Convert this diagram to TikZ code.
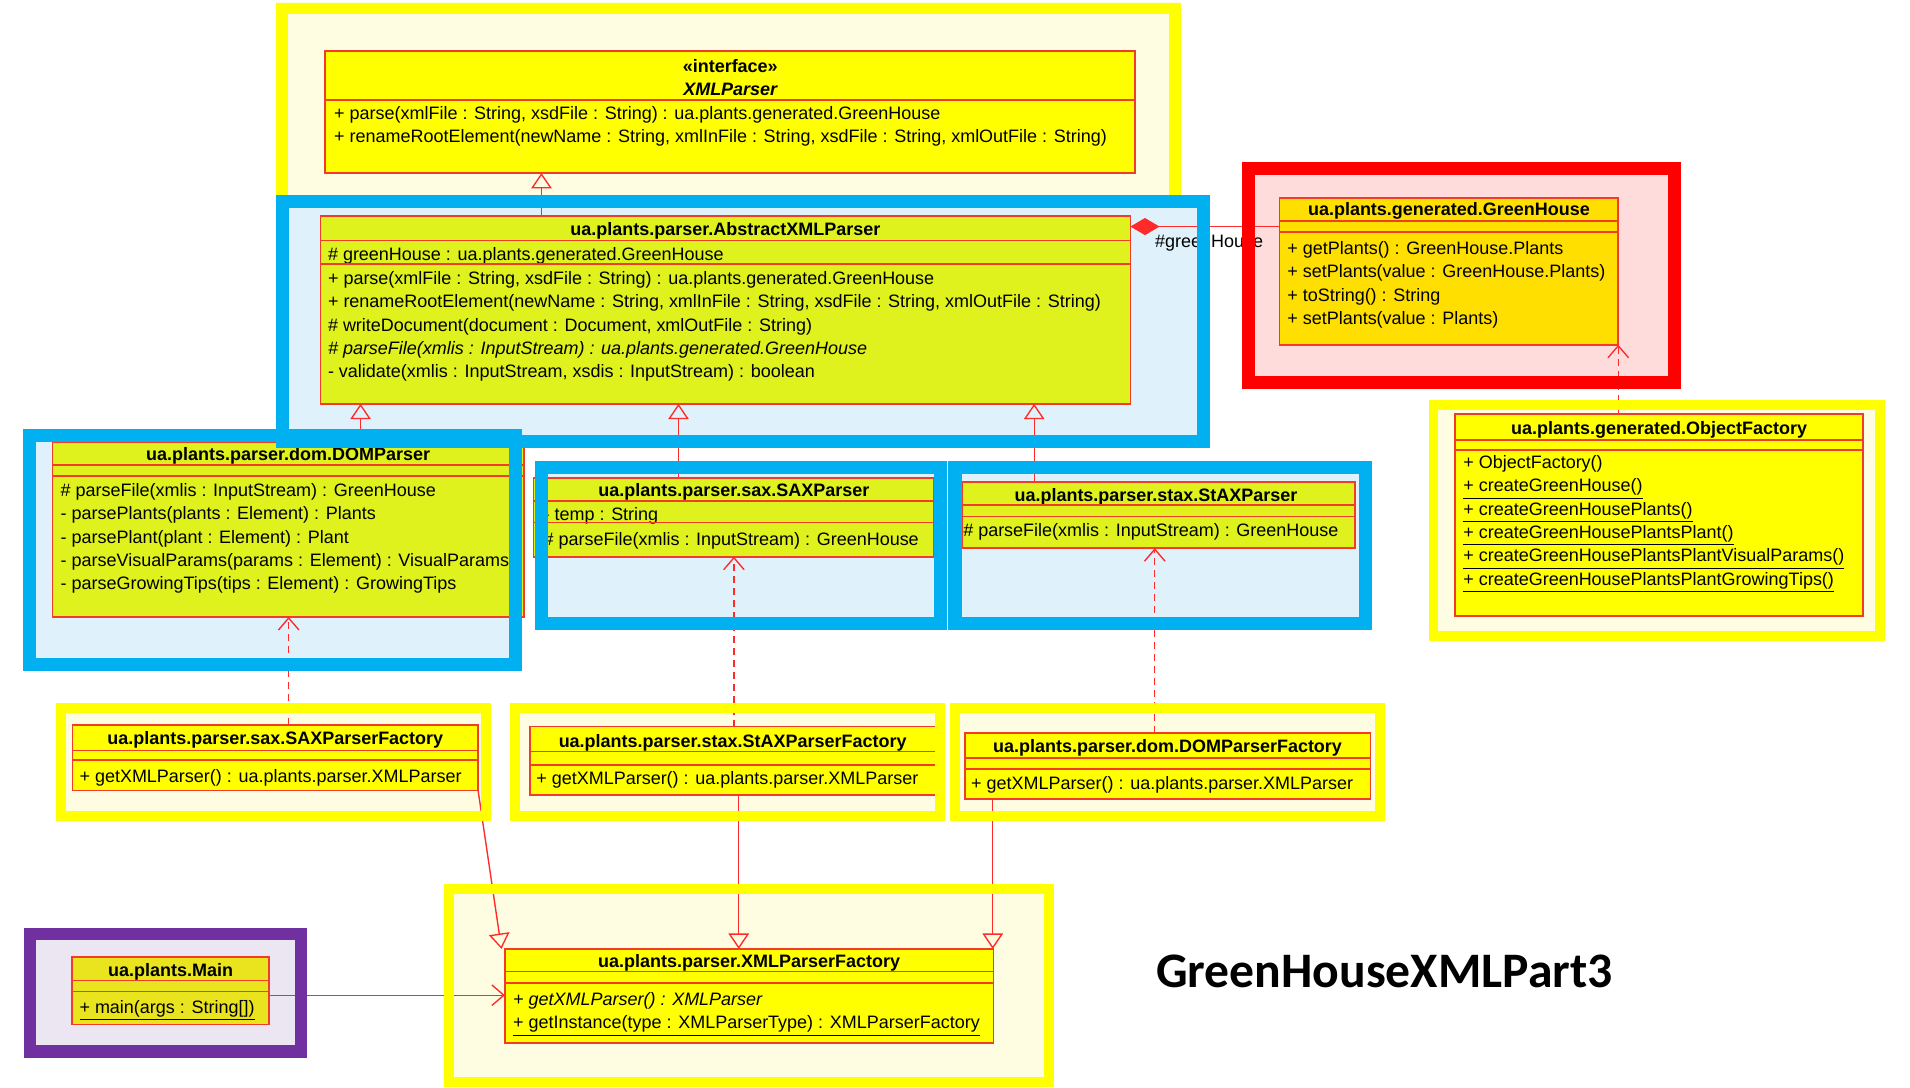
\documentclass[tikz,border=0pt]{standalone}
\usepackage{fontspec}
\setmainfont{Liberation Sans}
\newfontfamily\titlefont{Carlito}
\usetikzlibrary{arrows.meta,fit}

\definecolor{frameyellow}{HTML}{FFFF00}
\definecolor{paleyellow}{HTML}{FFFDE1}
\definecolor{frameblue}{HTML}{00B0F0}
\definecolor{paleblue}{HTML}{DFF2FB}
\definecolor{framered}{HTML}{FF0000}
\definecolor{palered}{HTML}{FFDCDC}
\definecolor{framepurple}{HTML}{7030A0}
\definecolor{palepurple}{HTML}{ECE6F3}
\definecolor{classyellow}{HTML}{FFFF00}
\definecolor{classlime}{HTML}{DFF21E}
\definecolor{classgold}{HTML}{FFDF00}
\definecolor{classmain}{HTML}{EAE41E}
\definecolor{umlred}{HTML}{F03C28}
\definecolor{linkred}{HTML}{FF2A2A}

\newcommand{\umlsize}{\fontsize{10.5}{13.65}\selectfont}

\tikzset{
  umlclass/.style={draw=umlred, line width=1pt, inner sep=0pt, outer sep=0pt},
  classname/.style={font=\umlsize\bfseries, inner sep=0pt},
  members/.style={font=\umlsize, align=left, anchor=north west, inner sep=0pt},
  compartment/.style={draw=umlred, line width=1pt},
  yframe/.style={draw=frameyellow, line width=5.8pt},
  bframe/.style={draw=frameblue, line width=7.6pt},
  rframe/.style={draw=framered, line width=7.5pt},
  pframe/.style={draw=framepurple, line width=7.3pt},
  inherit/.style={draw=linkred, line width=0.8pt, -{Triangle[open, length=9pt, width=12pt]}},
  depends/.style={draw=linkred, line width=0.8pt, dash pattern=on 4pt off 3pt, -{Straight Barb[length=7pt, width=12pt]}},
  assoc/.style={draw=linkred, line width=0.8pt, -{Straight Barb[length=7pt, width=12pt]}},
  composite/.style={draw=linkred, line width=0.8pt, {Diamond[length=17pt, width=10pt, fill=linkred]}-}
}

\begin{document}
\begin{tikzpicture}[x=0.025cm, y=-0.025cm]
    \useasboundingbox (0,0) rectangle (1568,893);

    % group backgrounds
    \fill[paleyellow] (226.5,2) rectangle (969,170);
    \fill[paleblue] (226.5,160) rectangle (993.5,368);
    \fill[paleblue] (19,352) rectangle (428,551);
    \fill[paleblue] (439,378.5) rectangle (777,517);
    \fill[paleblue] (779,378.5) rectangle (1126.5,517);
    \fill[palered] (1020,133) rectangle (1380,319.5);
    \fill[paleyellow] (1173,328.5) rectangle (1547.5,526);
    \fill[paleyellow] (46,577.5) rectangle (403,674);
    \fill[paleyellow] (419,577.5) rectangle (776,674);
    \fill[paleyellow] (780,577.5) rectangle (1137,674);
    \fill[paleyellow] (364,726) rectangle (865.5,893);
    \fill[palepurple] (19.5,761.5) rectangle (252,868.5);

    % interface XMLParser
    \node[umlclass, fill=classyellow, fit={(267,42) (932,142)}] (xmlparser) {};
    \node[classname] (xmlparser-st) at (599.5,54) {«interface»};
    \node[classname, font=\umlsize\bfseries\itshape] (xmlparser-name) at (599.5,73.5) {XMLParser};
    \draw[compartment] (xmlparser.west |- 0,82) -- (xmlparser.east |- 0,82);
    \node[members] (xmlparser-ops) at (274,87) {+ parse(xmlFile : String, xsdFile : String) : ua.plants.generated.GreenHouse\\
      + renameRootElement(newName : String, xmlInFile : String, xsdFile : String, xmlOutFile : String)};

    % AbstractXMLParser
    \node[umlclass, fill=classlime, fit={(263,177.5) (928,331.5)}] (abstractparser) {};
    \node[classname] (abstractparser-name) at (595.5,189.5) {ua.plants.parser.AbstractXMLParser};
    \draw[compartment] (abstractparser.west |- 0,197.5) -- (abstractparser.east |- 0,197.5);
    \node[members] (abstractparser-attrs) at (269,202.5) {\# greenHouse : ua.plants.generated.GreenHouse};
    \draw[compartment] (abstractparser.west |- 0,216.5) -- (abstractparser.east |- 0,216.5);
    \node[members] (abstractparser-ops) at (269,222.5) {+ parse(xmlFile : String, xsdFile : String) : ua.plants.generated.GreenHouse\\
      + renameRootElement(newName : String, xmlInFile : String, xsdFile : String, xmlOutFile : String)\\
      \# writeDocument(document : Document, xmlOutFile : String)\\
      {\itshape \# parseFile(xmlis : InputStream) : ua.plants.generated.GreenHouse}\\
      - validate(xmlis : InputStream, xsdis : InputStream) : boolean};

    % GreenHouse
    \node[umlclass, fill=classgold, fit={(1050.5,162.5) (1328.5,283)}] (greenhouse) {};
    \node[classname] (greenhouse-name) at (1189.5,173.5) {ua.plants.generated.GreenHouse};
    \draw[compartment] (greenhouse.west |- 0,181.5) -- (greenhouse.east |- 0,181.5);
    \draw[compartment] (greenhouse.west |- 0,190.5) -- (greenhouse.east |- 0,190.5);
    \node[members] (greenhouse-ops) at (1056.5,198) {+ getPlants() : GreenHouse.Plants\\
      + setPlants(value : GreenHouse.Plants)\\
      + toString() : String\\
      + setPlants(value : Plants)};

    % ObjectFactory
    \node[umlclass, fill=classyellow, fit={(1194.5,340) (1529.5,505.5)}] (objfactory) {};
    \node[classname] (objfactory-name) at (1362,353) {ua.plants.generated.ObjectFactory};
    \draw[compartment] (objfactory.west |- 0,361) -- (objfactory.east |- 0,361);
    \draw[compartment] (objfactory.west |- 0,369.5) -- (objfactory.east |- 0,369.5);
    \node[members] (objfactory-ops) at (1201,373.5) {+ ObjectFactory()\\
      \underline{+ createGreenHouse()}\\
      \underline{+ createGreenHousePlants()}\\
      \underline{+ createGreenHousePlantsPlant()}\\
      \underline{+ createGreenHousePlantsPlantVisualParams()}\\
      \underline{+ createGreenHousePlantsPlantGrowingTips()}};

    % DOMParser
    \node[umlclass, fill=classlime, fit={(43,363) (430,506.5)}] (domparser) {};
    \node[classname] (domparser-name) at (236.5,374) {ua.plants.parser.dom.DOMParser};
    \draw[compartment] (domparser.west |- 0,381.5) -- (domparser.east |- 0,381.5);
    \draw[compartment] (domparser.west |- 0,391) -- (domparser.east |- 0,391);
    \node[members] (domparser-ops) at (49.5,396.5) {\# parseFile(xmlis : InputStream) : GreenHouse\\
      - parsePlants(plants : Element) : Plants\\
      - parsePlant(plant : Element) : Plant\\
      - parseVisualParams(params : Element) : VisualParams\\
      - parseGrowingTips(tips : Element) : GrowingTips};

    % SAXParser
    \node[umlclass, fill=classlime, fit={(438,392.5) (767,457)}] (saxparser) {};
    \node[classname] (saxparser-name) at (602.5,403.5) {ua.plants.parser.sax.SAXParser};
    \draw[compartment] (saxparser.west |- 0,411) -- (saxparser.east |- 0,411);
    \node[members] (saxparser-attrs) at (446,416.5) {- temp : String};
    \draw[compartment] (saxparser.west |- 0,429) -- (saxparser.east |- 0,429);
    \node[members] (saxparser-ops) at (446,436.5) {\# parseFile(xmlis : InputStream) : GreenHouse};

    % StAXParser
    \node[umlclass, fill=classlime, fit={(789.5,395.5) (1112.5,450)}] (staxparser) {};
    \node[classname] (staxparser-name) at (949,407.5) {ua.plants.parser.stax.StAXParser};
    \draw[compartment] (staxparser.west |- 0,414.5) -- (staxparser.east |- 0,414.5);
    \draw[compartment] (staxparser.west |- 0,424) -- (staxparser.east |- 0,424);
    \node[members] (staxparser-ops) at (790.5,429.5) {\# parseFile(xmlis : InputStream) : GreenHouse};

    % factories
    \node[umlclass, fill=classyellow, fit={(59.5,595) (392.5,649)}] (saxfactory) {};
    \node[classname] (saxfactory-name) at (226,607.5) {ua.plants.parser.sax.SAXParserFactory};
    \draw[compartment] (saxfactory.west |- 0,616) -- (saxfactory.east |- 0,616);
    \draw[compartment] (saxfactory.west |- 0,624) -- (saxfactory.east |- 0,624);
    \node[members] (saxfactory-ops) at (65,631.5) {+ getXMLParser() : ua.plants.parser.XMLParser};

    \node[umlclass, fill=classyellow, fit={(435,596.5) (772,652.5)}] (staxfactory) {};
    \node[classname] (staxfactory-name) at (601.5,609.5) {ua.plants.parser.stax.StAXParserFactory};
    \draw[compartment] (staxfactory.west |- 0,617) -- (staxfactory.east |- 0,617);
    \draw[compartment] (staxfactory.west |- 0,628) -- (staxfactory.east |- 0,628);
    \node[members] (staxfactory-ops) at (440,633) {+ getXMLParser() : ua.plants.parser.XMLParser};

    \node[umlclass, fill=classyellow, fit={(792,601.5) (1125,656)}] (domfactory) {};
    \node[classname] (domfactory-name) at (958.5,614) {ua.plants.parser.dom.DOMParserFactory};
    \draw[compartment] (domfactory.west |- 0,622.5) -- (domfactory.east |- 0,622.5);
    \draw[compartment] (domfactory.west |- 0,631.5) -- (domfactory.east |- 0,631.5);
    \node[members] (domfactory-ops) at (797,637.5) {+ getXMLParser() : ua.plants.parser.XMLParser};

    % XMLParserFactory
    \node[umlclass, fill=classyellow, fit={(414.5,779) (815.5,856)}] (parserfactory) {};
    \node[classname] (parserfactory-name) at (615,790.5) {ua.plants.parser.XMLParserFactory};
    \draw[compartment] (parserfactory.west |- 0,797.5) -- (parserfactory.east |- 0,797.5);
    \draw[compartment] (parserfactory.west |- 0,807) -- (parserfactory.east |- 0,807);
    \node[members] (parserfactory-ops) at (421,814.5) {{\itshape + getXMLParser() : XMLParser}\\
      \underline{+ getInstance(type : XMLParserType) : XMLParserFactory}};

    % Main
    \node[umlclass, fill=classmain, fit={(59,785.5) (221,841)}] (mainclass) {};
    \node[classname] (mainclass-name) at (140,798) {ua.plants.Main};
    \draw[compartment] (mainclass.west |- 0,805) -- (mainclass.east |- 0,805);
    \draw[compartment] (mainclass.west |- 0,814) -- (mainclass.east |- 0,814);
    \node[members] (mainclass-ops) at (65,821) {\underline{+ main(args : String[])}};

    % relations
    \draw[inherit] (abstractparser.north -| 444.5,0) -- (xmlparser.south -| 444.5,0);
    \draw[inherit] (domparser.north -| 296,0) -- (abstractparser.south -| 296,0);
    \draw[inherit] (saxparser.north -| 557,0) -- (abstractparser.south -| 557,0);
    \draw[inherit] (staxparser.north -| 849,0) -- (abstractparser.south -| 849,0);
    \draw[composite] (abstractparser.east |- 0,186) -- (greenhouse.west |- 0,186);
    \node[font=\umlsize, anchor=west, inner sep=0pt] (greenhouse-role) at (948,200) {\#greenHouse};
    \draw[depends] (objfactory.north -| 1328.5,0) -- (greenhouse.south -| 1328.5,0);
    \draw[depends] (saxfactory.north -| 237,0) -- (domparser.south -| 237,0);
    \draw[depends] (staxfactory.north -| 602.5,0) -- (saxparser.south -| 602.5,0);
    \draw[depends] (domfactory.north -| 948,0) -- (staxparser.south -| 948,0);
    \draw[inherit] (saxfactory.south east) -- ([xshift=-2pt]parserfactory.north west);
    \draw[inherit] (staxfactory.south -| 606.5,0) -- (parserfactory.north -| 606.5,0);
    \draw[inherit] (domfactory.south -| 815,0) -- (parserfactory.north -| 815,0);
    \draw[assoc] (mainclass.east |- 0,817) -- (parserfactory.west |- 0,817);

    % group frames
    \draw[yframe, line width=6.8pt] (231.3,7) rectangle (964.5,165);
    \draw[bframe] (231.8,165.3) rectangle (988.3,362.8);
    \draw[bframe] (24.5,357.3) rectangle (423,545.7);
    \draw[bframe] (444.5,384) rectangle (771.8,511.7);
    \draw[bframe] (784,384) rectangle (1121.2,511.7);
    \draw[rframe] (1025.2,138.5) rectangle (1374.8,314.2);
    \draw[yframe] (1176.8,332.6) rectangle (1543.5,521.9);
    \draw[yframe] (50.1,581.5) rectangle (398.8,669.7);
    \draw[yframe] (422.8,581.5) rectangle (771.8,669.7);
    \draw[yframe] (784.1,581.5) rectangle (1133,669.7);
    \draw[yframe] (368.4,730) rectangle (861.4,888.5);
    \draw[pframe] (24.7,766.6) rectangle (247,863.3);

    % title
    \node[font=\titlefont\bfseries\fontsize{29}{33}\selectfont] (title) at (1136.5,797.5) {GreenHouseXMLPart3};
\end{tikzpicture}
\end{document}
